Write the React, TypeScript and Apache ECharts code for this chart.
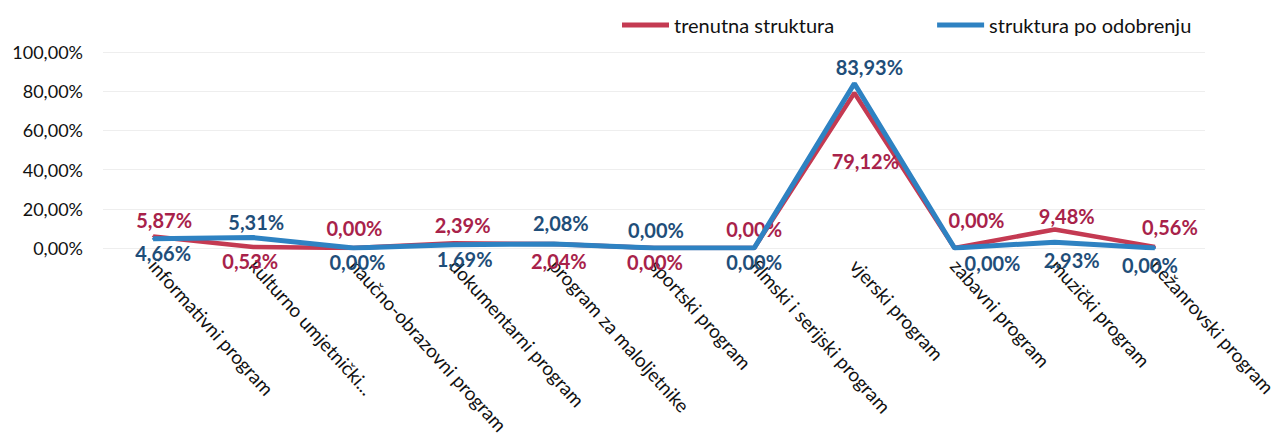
import React, { useEffect, useRef } from "react";
import * as echarts from "echarts";

const categories = [
  "informativni program",
  "kulturno umjetnički...",
  "naučno-obrazovni program",
  "dokumentarni program",
  "program za maloljetnike",
  "sportski program",
  "filmski i serijski program",
  "vjerski program",
  "zabavni program",
  "muzički program",
  "nežanrovski program",
];

const trenutnaStruktura = [5.87, 0.53, 0.0, 2.39, 2.04, 0.0, 0.0, 79.12, 0.0, 9.48, 0.56];
const strukturaPoOdobrenju = [4.66, 5.31, 0.0, 1.69, 2.08, 0.0, 0.0, 83.93, 0.0, 2.93, 0.0];

const yTicks = [0, 20, 40, 60, 80, 100];

// label layout (placement and nudges, style only)
const redPos = ["top", "bottom", "top", "top", "bottom", "bottom", "top", "bottom", "top", "top", "top"];
const redDx = [11, -3, 1, 9, 5, 1, 0, 11, 22, 12, 15];
const redDy = [0, -2, -4, -2, 1, -2, -3, 52, -12, 3, -4];
const bluePos = ["bottom", "top", "bottom", "bottom", "top", "top", "bottom", "top", "bottom", "bottom", "bottom"];
const blueDx = [10, 3, 4, 11, 7, 2, 0, 15, 38, 17, -5];
const blueDy = [-2, 0, -2, -2, -5, -2, -2, 0, -1, 2, 1];

const fmt = (v: number) => v.toFixed(2).replace(".", ",") + "%";

const RED = "#c43a52";
const BLUE = "#2e82c2";

export default function App() {
  const ref = useRef<HTMLDivElement>(null);
  useEffect(() => {
    if (!ref.current) return;
    const chart = echarts.init(ref.current, undefined, { renderer: "svg" });
    const mk = (vals: number[], pos: string[]) =>
      vals.map((v, i) => ({
        value: v,
        label: { position: pos[i] },
      }));
    const lay = (dx: number[], dy: number[]) => (p: any) => ({
      dx: dx[p.dataIndex],
      dy: dy[p.dataIndex],
      hideOverlap: false,
    });
    chart.setOption({
      animation: false,
      textStyle: { fontFamily: "Lato" },
      legend: {
        left: 617,
        top: 10,
        itemWidth: 47,
        itemHeight: 5,
        itemGap: 103,
        icon: "rect",
        textStyle: { fontFamily: "Lato", fontSize: 20, color: "#111" },
        data: [
          { name: "trenutna struktura", itemStyle: { color: RED } },
          { name: "struktura po odobrenju", itemStyle: { color: BLUE } },
        ],
      },
      grid: {
        left: 103,
        right: 83,
        top: 52,
        bottom: 197,
        containLabel: false,
        outerBoundsMode: "none",
      },
      xAxis: {
        type: "category",
        data: categories,
        boundaryGap: true,
        axisLine: { show: false },
        axisTick: { show: false },
        axisLabel: {
          interval: 0,
          rotate: -48,
          margin: 14,
          fontFamily: "Lato",
          fontSize: 19,
          color: "#111",
        },
      },
      yAxis: {
        type: "value",
        min: yTicks[0],
        max: yTicks[yTicks.length - 1],
        interval: 20,
        axisLine: { show: false },
        axisTick: { show: false },
        splitLine: { lineStyle: { color: "#eeeeee", width: 1 } },
        axisLabel: {
          margin: 20,
          fontFamily: "Lato",
          fontSize: 18,
          color: "#111",
          formatter: (v: number) => fmt(v),
        },
      },
      series: [
        {
          name: "trenutna struktura",
          type: "line",
          data: mk(trenutnaStruktura, redPos),
          symbol: "circle",
          symbolSize: 2,
          showSymbol: true,
          itemStyle: { color: RED },
          color: RED,
          lineStyle: { width: 4.5, color: RED },
          labelLayout: lay(redDx, redDy),
          label: {
            show: true,
            distance: 5,
            fontFamily: "Lato",
            fontSize: 20,
            fontWeight: "bold",
            color: "#a8224a",
            formatter: (p: any) => fmt(p.value),
          },
          z: 2,
        },
        {
          name: "struktura po odobrenju",
          type: "line",
          data: mk(strukturaPoOdobrenju, bluePos),
          symbol: "circle",
          symbolSize: 2,
          showSymbol: true,
          itemStyle: { color: BLUE },
          color: BLUE,
          lineStyle: { width: 5, color: BLUE },
          labelLayout: lay(blueDx, blueDy),
          label: {
            show: true,
            distance: 5,
            fontFamily: "Lato",
            fontSize: 20,
            fontWeight: "bold",
            color: "#1f4e79",
            formatter: (p: any) => fmt(p.value),
          },
          z: 3,
        },
      ],
    });
    return () => chart.dispose();
  }, []);
  return <div ref={ref} style={{ width: 1288, height: 445, marginLeft: -8, marginTop: -8 }} />;
}
